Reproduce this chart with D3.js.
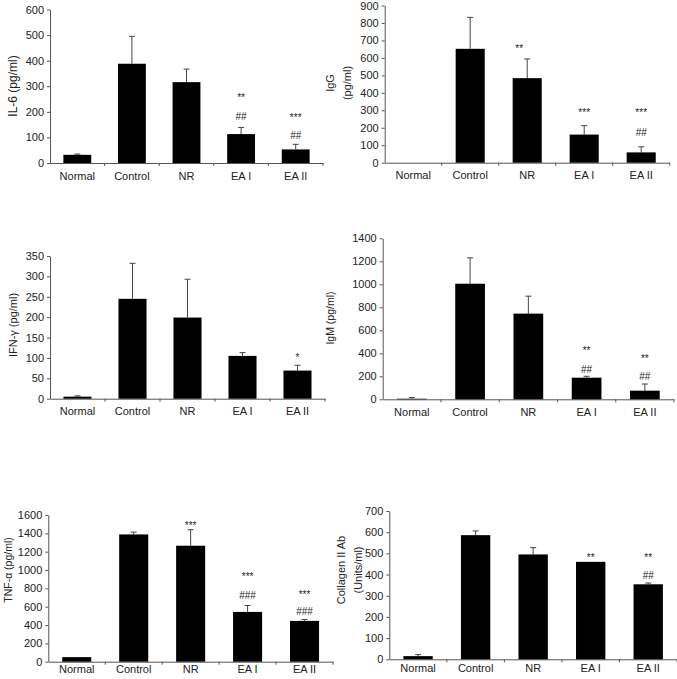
<!DOCTYPE html>
<html>
<head>
<meta charset="utf-8">
<script src="https://cdn.jsdelivr.net/npm/d3@7"></script>
<style>
  html, body { margin: 0; padding: 0; background: #fff; }
  svg { display: block; font-family: "Liberation Sans", Arial, Helvetica, sans-serif; }
</style>
</head>
<body>
<svg id="chart" width="677" height="679"></svg>
<script>
// ---------------- DATA ----------------
const categories = ["Normal", "Control", "NR", "EA I", "EA II"];

const il6Mean  = [32, 388, 316, 113, 53];
const il6Err   = [3, 107, 51, 26, 20];
const il6Ticks = [0, 100, 200, 300, 400, 500, 600];
const il6Marks = [
  {cat: "EA I", text: "**", at: 265}, {cat: "EA I", text: "##", at: 183},
  {cat: "EA II", text: "***", at: 187}, {cat: "EA II", text: "##", at: 109}
];

const iggMean  = [0, 652, 484, 161, 59];
const iggErr   = [0, 180, 110, 51, 32];
const iggTicks = [0, 100, 200, 300, 400, 500, 600, 700, 800, 900];
const iggMarks = [
  {cat: "NR", text: "**", at: 668, dx: -8},
  {cat: "EA I", text: "***", at: 299},
  {cat: "EA II", text: "***", at: 299}, {cat: "EA II", text: "##", at: 174}
];

const ifngMean  = [5, 245, 199, 105, 69];
const ifngErr   = [2, 87, 94, 8, 13];
const ifngTicks = [0, 50, 100, 150, 200, 250, 300, 350];
const ifngMarks = [{cat: "EA II", text: "*", at: 107}];

const igmMean  = [5, 1005, 745, 188, 75];
const igmErr   = [10, 225, 152, 12, 58];
const igmTicks = [0, 200, 400, 600, 800, 1000, 1200, 1400];
const igmMarks = [
  {cat: "EA I", text: "**", at: 443}, {cat: "EA I", text: "##", at: 263},
  {cat: "EA II", text: "**", at: 376}, {cat: "EA II", text: "##", at: 197}
];

const tnfMean  = [50, 1388, 1265, 543, 445];
const tnfErr   = [0, 25, 175, 70, 15];
const tnfTicks = [0, 200, 400, 600, 800, 1000, 1200, 1400, 1600];
const tnfMarks = [
  {cat: "NR", text: "***", at: 1509},
  {cat: "EA I", text: "***", at: 953}, {cat: "EA I", text: "###", at: 720},
  {cat: "EA II", text: "***", at: 763}, {cat: "EA II", text: "###", at: 545}
];

const col2Mean  = [15, 586, 495, 460, 354];
const col2Err   = [7, 20, 32, 0, 6];
const col2Ticks = [0, 100, 200, 300, 400, 500, 600, 700];
const col2Marks = [
  {cat: "EA I", text: "**", at: 492},
  {cat: "EA II", text: "**", at: 492}, {cat: "EA II", text: "##", at: 398}
];

// ---------------- LAYOUT ----------------
const panels = [
  {mean: il6Mean,  err: il6Err,  ticks: il6Ticks,  marks: il6Marks,
   label: ["IL-6 (pg/ml)"], left: 50, right: 323, top: 9.5, bottom: 163, pad: 9,
   labelX: 13, labelY: 86, labelSize: 12},
  {mean: iggMean,  err: iggErr,  ticks: iggTicks,  marks: iggMarks,
   label: ["IgG", "(pg/ml)"], left: 384.7, right: 669.7, top: 5.5, bottom: 162.7, pad: 9,
   labelX: 330, labelY: 83, labelSize: 11},
  {mean: ifngMean, err: ifngErr, ticks: ifngTicks, marks: ifngMarks,
   label: ["IFN-\u03b3 (pg/ml)"], left: 50, right: 325, top: 256, bottom: 398.7, pad: 9,
   labelX: 13, labelY: 325, labelSize: 11},
  {mean: igmMean,  err: igmErr,  ticks: igmTicks,  marks: igmMarks,
   label: ["IgM (pg/ml)"], left: 382.7, right: 674, top: 238.3, bottom: 399.3, pad: 9,
   labelX: 330, labelY: 318, labelSize: 10.5},
  {mean: tnfMean,  err: tnfErr,  ticks: tnfTicks,  marks: tnfMarks,
   label: ["TNF-\u03b1 (pg/ml)"], left: 48.3, right: 333, top: 515, bottom: 661.7, pad: 4,
   labelX: 8, labelY: 570, labelSize: 10.5},
  {mean: col2Mean, err: col2Err, ticks: col2Ticks, marks: col2Marks,
   label: ["Collagen II Ab", "(Units/ml)"], left: 389.3, right: 677, top: 511, bottom: 659.3, pad: 5,
   labelX: 341, labelY: 570, labelSize: 11}
];

const axisColor = "#555";
const svg = d3.select("#chart");

panels.forEach(p => {
  const g = svg.append("g");
  const x = d3.scaleBand().domain(categories).range([p.left, p.right])
    .paddingInner(0.49).paddingOuter(0.245);
  const yMax = p.ticks[p.ticks.length - 1];
  const y = d3.scaleLinear().domain([0, yMax]).range([p.bottom, p.top]);

  // y axis
  const yAxis = d3.axisLeft(y).tickValues(p.ticks).tickFormat(d3.format("d"))
    .tickSize(3).tickPadding(3).tickSizeOuter(0);
  const ya = g.append("g").attr("transform", `translate(${p.left},0)`).call(yAxis);
  ya.select(".domain").attr("stroke", axisColor);
  ya.selectAll(".tick line").attr("stroke", axisColor);
  ya.selectAll(".tick text").attr("font-size", 11).attr("fill", "#222")
    .attr("font-family", "Liberation Sans, Arial, sans-serif");

  // x axis (labels)
  const xAxis = d3.axisBottom(x).tickSize(0).tickPadding(p.pad).tickSizeOuter(0);
  const xa = g.append("g").attr("transform", `translate(0,${p.bottom})`).call(xAxis);
  xa.select(".domain").attr("stroke", axisColor);
  xa.selectAll(".tick text").attr("font-size", 11).attr("fill", "#222")
    .attr("font-family", "Liberation Sans, Arial, sans-serif");

  // x boundary ticks
  const bounds = d3.range(1, categories.length + 1).map(i => p.left + i * x.step());
  g.selectAll("line.bt").data(bounds).join("line").attr("class", "bt")
    .attr("x1", d => d).attr("x2", d => d)
    .attr("y1", p.bottom).attr("y2", p.bottom + 3)
    .attr("stroke", axisColor);

  // error bars (upper only)
  const rows = categories.map((c, i) => ({c, v: p.mean[i], e: p.err[i]}));
  rows.filter(r => r.e > 0).forEach(r => {
    const cx = x(r.c) + x.bandwidth() / 2;
    g.append("line").attr("x1", cx).attr("x2", cx)
      .attr("y1", y(r.v)).attr("y2", y(r.v + r.e))
      .attr("stroke", "#444").attr("stroke-width", 1);
    g.append("line").attr("x1", cx - 3).attr("x2", cx + 3)
      .attr("y1", y(r.v + r.e)).attr("y2", y(r.v + r.e))
      .attr("stroke", "#444").attr("stroke-width", 1);
  });

  // bars
  g.selectAll("rect.bar").data(rows).join("rect").attr("class", "bar")
    .attr("x", d => x(d.c)).attr("width", x.bandwidth())
    .attr("y", d => y(d.v)).attr("height", d => y(0) - y(d.v))
    .attr("fill", "#000");

  // significance marks
  g.selectAll("text.mark").data(p.marks).join("text").attr("class", "mark")
    .attr("x", d => x(d.cat) + x.bandwidth() / 2 + (d.dx || 0))
    .attr("y", d => y(d.at) + (d.text.startsWith("*") ? 5.8 : 3.6))
    .attr("text-anchor", "middle").attr("font-size", 10).attr("fill", "#222")
    .text(d => d.text);

  // y label
  const lab = g.append("g").attr("transform", `translate(${p.labelX},${p.labelY}) rotate(-90)`);
  p.label.forEach((t, i) => {
    lab.append("text").attr("x", 0).attr("y", i * 17)
      .attr("text-anchor", "middle").attr("dominant-baseline", "central")
      .attr("font-size", p.labelSize).attr("fill", "#222").text(t);
  });
});
</script>
</body>
</html>
